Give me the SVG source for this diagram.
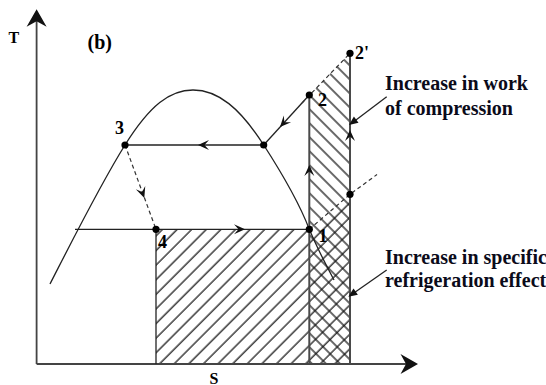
<svg xmlns="http://www.w3.org/2000/svg" xmlns:xlink="http://www.w3.org/1999/xlink" width="546" height="385" viewBox="0 0 546 385">
<style>
  .ln{fill:none;stroke:#222;stroke-width:1.3}
  .ax{fill:none;stroke:#444;stroke-width:1.8}
  .st{fill:none;stroke:#4a4a4a;stroke-width:2}
  .ds{fill:none;stroke:#333;stroke-width:1.2;stroke-dasharray:4 3}
  .dot{fill:#000}
  .ah{fill:#111}
  .lb{fill:#000}
  .tx{fill:#0b0b1a}
</style>
<defs>
  <pattern id="hf" patternUnits="userSpaceOnUse" width="10.33" height="10" patternTransform="rotate(45)">
    <line x1="8.56" y1="0" x2="8.56" y2="10" stroke="#111" stroke-width="1.25"/>
  </pattern>
  <pattern id="hb" patternUnits="userSpaceOnUse" width="9.9" height="10" patternTransform="rotate(-45)">
    <line x1="3" y1="0" x2="3" y2="10" stroke="#111" stroke-width="1.25"/>
  </pattern>
  <path id="ca" d="M0,0 L-11,-5 L-6.5,0 L-11,5 Z"/>
  <path id="axh" d="M0,0 L-17.5,-10 L-12,0 L-17.5,10 Z"/>
  <path id="la" d="M0,0 L-9,-3.8 L-9,3.8 Z"/>
</defs>

<g id="hatching">
  <polygon points="156,229.3 309.3,229.3 350,194.3 350,364 156,364" fill="url(#hf)"/>
  <polygon points="309.3,95 350,53.3 350,364 309.3,364" fill="url(#hb)"/>
</g>

<g id="axes" font-family="Liberation Serif, Times New Roman, serif" font-weight="bold">
  <line class="ax" x1="36.6" y1="364" x2="36.6" y2="20"/>
  <line class="ax" x1="36.6" y1="364" x2="408" y2="364"/>
  <use href="#axh" class="ah" transform="translate(36.6,9.3) rotate(-90)"/>
  <use href="#axh" class="ah" transform="translate(418,364)"/>
  <text class="lb" x="8.5" y="42.5" font-size="16">T</text>
  <text class="lb" x="209.5" y="383.5" font-size="16">S</text>
  <text class="lb" x="87.5" y="49" font-size="20">(b)</text>
</g>

<g id="dome">
  <path class="ln" d="M50,284 C70,245 100,185 125,145 C150,105 170,90 193,90 C218,90 240,108 263.7,145 C285,178 300,205 309.3,229.3 C318,250 326,265 334,280"/>
</g>

<g id="connectors">
  <line class="ln" x1="263.7" y1="145" x2="125" y2="145"/>
  <line class="ln" x1="75" y1="229.3" x2="309.3" y2="229.3"/>
  <line class="ln" x1="309.3" y1="95" x2="263.7" y2="145"/>
  <line class="ds" x1="125" y1="145" x2="156" y2="229.3"/>
  <line class="ds" x1="302" y1="103" x2="350" y2="53.3"/>
  <polyline class="ds" points="309.3,229.3 350,194.3 377,174.5"/>
  <line class="st" x1="309.3" y1="95" x2="309.3" y2="364"/>
  <line class="st" x1="350" y1="53.3" x2="350" y2="364"/>
  <line class="ln" x1="156" y1="229.3" x2="156" y2="364"/>
  <line class="ln" x1="386.7" y1="96.7" x2="352" y2="123"/>
  <line class="ln" x1="386.7" y1="270" x2="351" y2="295"/>
  <use href="#ca" class="ah" transform="translate(198,145) rotate(180)"/>
  <use href="#ca" class="ah" transform="translate(245,229.3)"/>
  <use href="#ca" class="ah" transform="translate(144.3,198) rotate(70)"/>
  <use href="#ca" class="ah" transform="translate(280,127) rotate(132.4)"/>
  <use href="#ca" class="ah" transform="translate(309.3,165) rotate(-90)"/>
  <use href="#ca" class="ah" transform="translate(350,130) rotate(-90)"/>
  <use href="#la" class="ah" transform="translate(349,125) rotate(143.1)"/>
  <use href="#la" class="ah" transform="translate(348.3,296.7) rotate(145.2)"/>
</g>

<g font-family="Liberation Serif, Times New Roman, serif" font-weight="bold">
<g id="p3"><circle class="dot" cx="125" cy="145" r="3.6"/><text class="lb" x="115" y="134" font-size="18">3</text></g>
<g id="pv"><circle class="dot" cx="263.7" cy="145" r="3.6"/></g>
<g id="p4"><circle class="dot" cx="156" cy="229.3" r="3.6"/><text class="lb" x="158" y="248" font-size="18">4</text></g>
<g id="p1"><circle class="dot" cx="309.3" cy="229.3" r="3.6"/><text class="lb" x="318.5" y="242" font-size="18">1</text></g>
<g id="p2"><circle class="dot" cx="309.3" cy="95" r="3.6"/><text class="lb" x="318" y="106" font-size="18">2</text></g>
<g id="p2p"><circle class="dot" cx="350" cy="53.3" r="3.6"/><text class="lb" x="355" y="58.5" font-size="18">2'</text></g>
<g id="pm"><circle class="dot" cx="350" cy="194.3" r="3.6"/></g>

<g id="label-work" font-size="20">
  <text class="tx" x="385" y="90">Increase in work</text>
  <text class="tx" x="385" y="115">of compression</text>
</g>
<g id="label-effect" font-size="20">
  <text class="tx" x="385" y="263.5">Increase in specific</text>
  <text class="tx" x="385" y="287">refrigeration effect</text>
</g>
</g>
</svg>
